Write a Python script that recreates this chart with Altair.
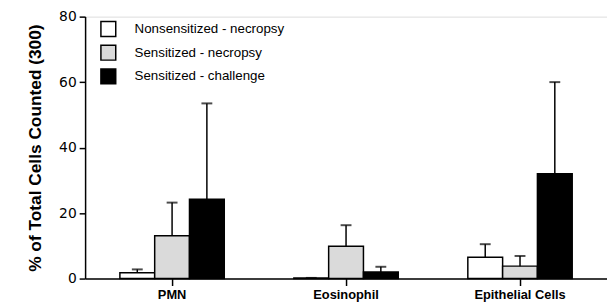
import altair as alt
import pandas as pd

categories = ["PMN", "Eosinophil", "Epithelial Cells"]
groups = ["Nonsensitized - necropsy", "Sensitized - necropsy", "Sensitized - challenge"]
means = {
    "Nonsensitized - necropsy": [1.8, 0.2, 6.5],
    "Sensitized - necropsy": [13.1, 9.9, 3.8],
    "Sensitized - challenge": [24.2, 2.0, 32.0],
}
err_top = {
    "Nonsensitized - necropsy": [2.8, 0.2, 10.5],
    "Sensitized - necropsy": [23.2, 16.3, 6.9],
    "Sensitized - challenge": [53.5, 3.6, 60.0],
}
fills = ["white", "#dadada", "black"]

rows = []
for g in groups:
    for i, c in enumerate(categories):
        rows.append({"cat": c, "group": g, "mean": means[g][i], "top": err_top[g][i]})
df = pd.DataFrame(rows)

FONT = "Liberation Sans"

x = alt.X("cat:N", sort=categories, title=None,
          scale=alt.Scale(paddingInner=0, paddingOuter=0),
          axis=alt.Axis(labelFont=FONT, labelFontSize=13, labelFontWeight="bold",
                        labelColor="black", labelAngle=0, tickColor="black", tickSize=7,
                        tickWidth=1.5, domainColor="black", domainWidth=1.5, labelPadding=3))
xo = alt.XOffset("group:N", sort=groups, scale=alt.Scale(paddingInner=0, paddingOuter=1.0))

base = alt.Chart(df)

bars = base.mark_bar(stroke="black", strokeWidth=1.5).encode(
    x=x, xOffset=xo,
    y=alt.Y("mean:Q", title="% of Total Cells Counted (300)",
            scale=alt.Scale(domain=[0, 80], nice=False),
            axis=alt.Axis(values=[0, 10, 20, 30, 40, 50, 60, 70, 80],
                          labelExpr="datum.value % 20 === 0 ? datum.label : ''",
                          labelFont="DejaVu Sans", labelFontSize=14, labelColor="black",
                          tickColor="black", tickSize=6, tickWidth=1.5,
                          domainColor="black", domainWidth=1.5, grid=False,
                          titleFont=FONT, titleFontSize=17.5, titleFontWeight="bold",
                          titleColor="black", titlePadding=14, labelPadding=3)),
    fill=alt.Fill("group:N", sort=groups,
                  scale=alt.Scale(domain=groups, range=fills),
                  legend=alt.Legend(title=None, orient="none", legendX=15, legendY=4,
                                    symbolType="square", symbolSize=225,
                                    symbolStrokeColor="black", symbolStrokeWidth=1.5,
                                    labelFont=FONT, labelFontSize=13.5, labelColor="black",
                                    labelOffset=18, rowPadding=3, padding=0)),
)

rules = base.mark_rule(color="black", strokeWidth=1.5).encode(
    x=x, xOffset=xo, y="mean:Q", y2="top:Q")

caps = base.mark_tick(color="black", thickness=2, size=11).encode(
    x=x, xOffset=xo, y="top:Q")

chart = alt.layer(bars, rules, caps).properties(
    width=528, height=265,
    autosize=alt.AutoSizeParams(type="none"),
    padding={"left": 78, "top": 7, "right": 0, "bottom": 24},
).configure_view(stroke=None).configure(background="white")

chart.save("out.html", embed_options={"renderer": "svg", "actions": False})
